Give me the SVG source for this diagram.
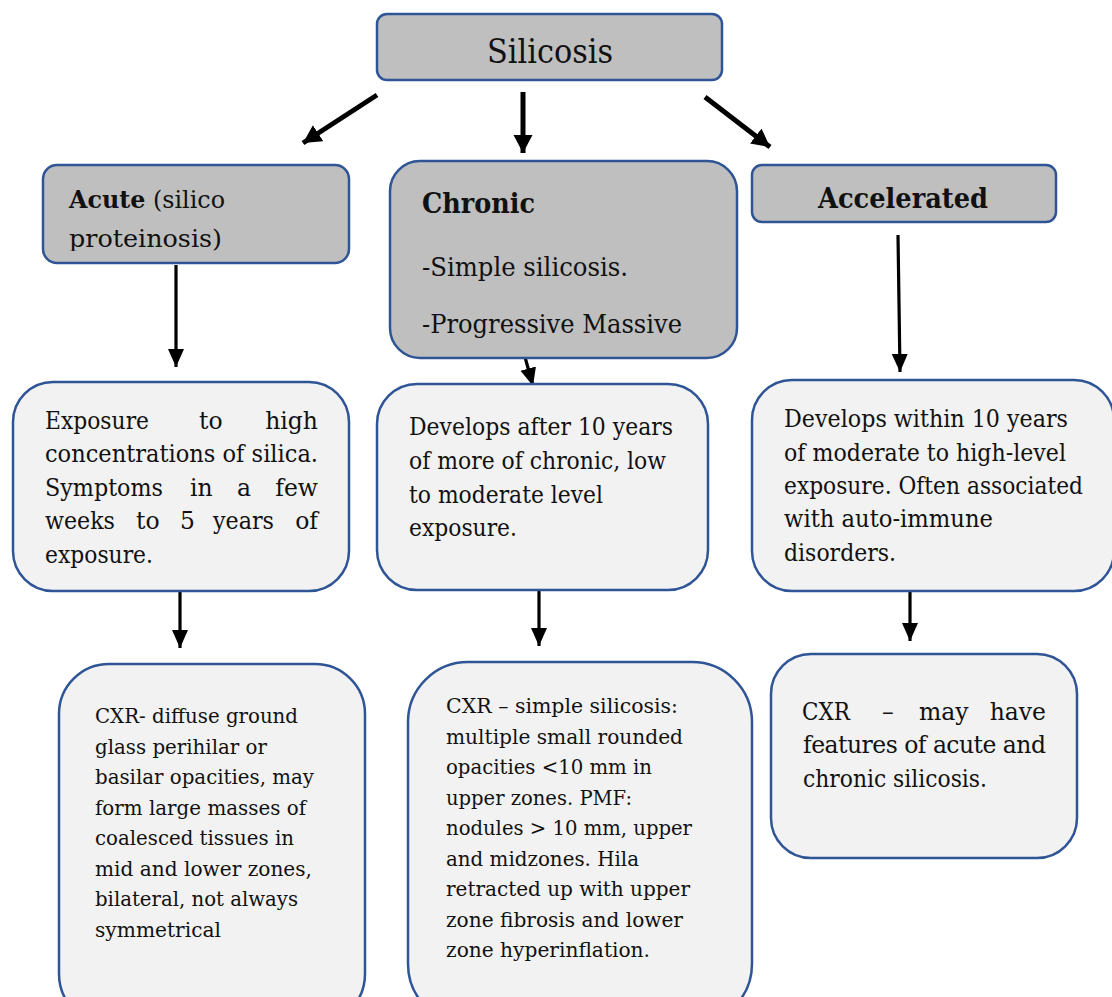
<svg xmlns="http://www.w3.org/2000/svg" width="1112" height="997" viewBox="0 0 1112 997">
<style>
.hd{fill:#bfbfbf;stroke:#2f5597;stroke-width:2.5}
.bx{fill:#f2f2f2;stroke:#2f5597;stroke-width:2.5}
text{font-family:"DejaVu Serif","Liberation Serif",serif;fill:#111}
.b{font-weight:bold}
.t{font-size:23.5px}
.c{font-size:21px}
.a1{stroke:#000;stroke-width:5;fill:none}
.a2{stroke:#000;stroke-width:3.2;fill:none}
</style>
<defs>
<marker id="big" markerUnits="userSpaceOnUse" markerWidth="22" markerHeight="20" refX="18" refY="9.5" orient="auto"><path d="M0,0 L18,9.5 L0,19 Z" fill="#000"/></marker>
<marker id="sm" markerUnits="userSpaceOnUse" markerWidth="20" markerHeight="18" refX="18" refY="8" orient="auto"><path d="M0,0 L18,8 L0,16 Z" fill="#000"/></marker>
<clipPath id="clipA"><rect x="40" y="160" width="320" height="91"/></clipPath>
<clipPath id="clipC"><rect x="385" y="155" width="360" height="183"/></clipPath>
</defs>
<rect width="1112" height="997" fill="#fff"/>

<g id="connectors">
<line class="a1" x1="377" y1="95" x2="303" y2="143" marker-end="url(#big)"/>
<line class="a1" x1="523" y1="92" x2="523" y2="153" marker-end="url(#big)"/>
<line class="a1" x1="705" y1="97" x2="770" y2="147" marker-end="url(#big)"/>
<line class="a2" x1="176" y1="265" x2="176" y2="367" marker-end="url(#sm)"/>
<line class="a2" x1="525" y1="357" x2="533" y2="386" marker-end="url(#sm)"/>
<line class="a2" x1="898" y1="235" x2="900" y2="372" marker-end="url(#sm)"/>
<line class="a2" x1="180" y1="592" x2="180" y2="648" marker-end="url(#sm)"/>
<line class="a2" x1="539" y1="587" x2="539" y2="646" marker-end="url(#sm)"/>
<line class="a2" x1="910" y1="585" x2="910" y2="641" marker-end="url(#sm)"/>
</g>

<g id="silicosis">
<rect class="hd" x="377" y="14" width="345" height="66" rx="10"/>
<text x="487" y="63" font-size="34" textLength="126" lengthAdjust="spacingAndGlyphs">Silicosis</text>
</g>

<g id="acute">
<rect class="hd" x="43" y="165" width="306" height="98" rx="14"/>
<g clip-path="url(#clipA)">
<text x="69" y="208" font-size="25" textLength="156" lengthAdjust="spacingAndGlyphs"><tspan class="b">Acute</tspan> (silico</text>
<text x="69" y="247" font-size="25" textLength="153" lengthAdjust="spacingAndGlyphs">proteinosis)</text>
</g>
</g>

<g id="chronic">
<rect class="hd" x="390" y="161" width="347" height="197" rx="30"/>
<g clip-path="url(#clipC)">
<text class="b" x="422" y="213" font-size="28" textLength="113" lengthAdjust="spacingAndGlyphs">Chronic</text>
<text x="422" y="276" font-size="26" textLength="206" lengthAdjust="spacingAndGlyphs">-Simple silicosis.</text>
<text x="422" y="333" font-size="26" textLength="260" lengthAdjust="spacingAndGlyphs">-Progressive Massive</text>
</g>
</g>

<g id="accelerated">
<rect class="hd" x="752" y="165" width="304" height="57" rx="10"/>
<text class="b" x="818" y="208" font-size="28" textLength="170" lengthAdjust="spacingAndGlyphs">Accelerated</text>
</g>

<g id="acute-detail">
<rect class="bx" x="13" y="382" width="336" height="209" rx="40"/>
<text class="t" x="45" y="429" textLength="104" lengthAdjust="spacingAndGlyphs">Exposure</text>
<text class="t" x="199" y="429">to</text>
<text class="t" x="318" y="429" text-anchor="end">high</text>
<text class="t" x="45" y="462" textLength="273" lengthAdjust="spacingAndGlyphs">concentrations of silica.</text>
<text class="t" x="45" y="496" textLength="118" lengthAdjust="spacingAndGlyphs">Symptoms</text>
<text class="t" x="190" y="496">in</text>
<text class="t" x="237" y="496">a</text>
<text class="t" x="318" y="496" text-anchor="end">few</text>
<text class="t" x="45" y="529" textLength="70" lengthAdjust="spacingAndGlyphs">weeks</text>
<text class="t" x="136" y="529">to</text>
<text class="t" x="180" y="529">5</text>
<text class="t" x="213" y="529" textLength="61" lengthAdjust="spacingAndGlyphs">years</text>
<text class="t" x="318" y="529" text-anchor="end">of</text>
<text class="t" x="45" y="563" textLength="108" lengthAdjust="spacingAndGlyphs">exposure.</text>
</g>

<g id="chronic-detail">
<rect class="bx" x="377" y="384" width="331" height="206" rx="40"/>
<text class="t" x="409" y="435" textLength="264" lengthAdjust="spacingAndGlyphs">Develops after 10 years</text>
<text class="t" x="409" y="469" textLength="257" lengthAdjust="spacingAndGlyphs">of more of chronic, low</text>
<text class="t" x="409" y="503" textLength="194" lengthAdjust="spacingAndGlyphs">to moderate level</text>
<text class="t" x="409" y="536" textLength="108" lengthAdjust="spacingAndGlyphs">exposure.</text>
</g>

<g id="accelerated-detail">
<rect class="bx" x="752" y="380" width="362" height="211" rx="40"/>
<text class="t" x="784" y="427" textLength="284" lengthAdjust="spacingAndGlyphs">Develops within 10 years</text>
<text class="t" x="784" y="461" textLength="282" lengthAdjust="spacingAndGlyphs">of moderate to high-level</text>
<text class="t" x="784" y="494" textLength="299" lengthAdjust="spacingAndGlyphs">exposure. Often associated</text>
<text class="t" x="784" y="527" textLength="209" lengthAdjust="spacingAndGlyphs">with auto-immune</text>
<text class="t" x="784" y="561" textLength="112" lengthAdjust="spacingAndGlyphs">disorders.</text>
</g>

<g id="acute-cxr">
<rect class="bx" x="59" y="664" width="306" height="360" rx="50"/>
<text class="c" x="95" y="723" textLength="203" lengthAdjust="spacingAndGlyphs">CXR- diffuse ground</text>
<text class="c" x="95" y="753.5" textLength="172" lengthAdjust="spacingAndGlyphs">glass perihilar or</text>
<text class="c" x="95" y="784" textLength="219" lengthAdjust="spacingAndGlyphs">basilar opacities, may</text>
<text class="c" x="95" y="814.5" textLength="211" lengthAdjust="spacingAndGlyphs">form large masses of</text>
<text class="c" x="95" y="845" textLength="199" lengthAdjust="spacingAndGlyphs">coalesced tissues in</text>
<text class="c" x="95" y="875.5" textLength="217" lengthAdjust="spacingAndGlyphs">mid and lower zones,</text>
<text class="c" x="95" y="906" textLength="203" lengthAdjust="spacingAndGlyphs">bilateral, not always</text>
<text class="c" x="95" y="936.5" textLength="126" lengthAdjust="spacingAndGlyphs">symmetrical</text>
</g>

<g id="chronic-cxr">
<rect class="bx" x="408" y="662" width="344" height="362" rx="60"/>
<text class="c" x="446" y="713" textLength="232" lengthAdjust="spacingAndGlyphs">CXR – simple silicosis:</text>
<text class="c" x="446" y="743.5" textLength="237" lengthAdjust="spacingAndGlyphs">multiple small rounded</text>
<text class="c" x="446" y="774" textLength="206" lengthAdjust="spacingAndGlyphs">opacities &lt;10 mm in</text>
<text class="c" x="446" y="804.5" textLength="186" lengthAdjust="spacingAndGlyphs">upper zones. PMF:</text>
<text class="c" x="446" y="835" textLength="246" lengthAdjust="spacingAndGlyphs">nodules &gt; 10 mm, upper</text>
<text class="c" x="446" y="865.5" textLength="193" lengthAdjust="spacingAndGlyphs">and midzones. Hila</text>
<text class="c" x="446" y="896" textLength="244" lengthAdjust="spacingAndGlyphs">retracted up with upper</text>
<text class="c" x="446" y="926.5" textLength="237" lengthAdjust="spacingAndGlyphs">zone fibrosis and lower</text>
<text class="c" x="446" y="957" textLength="204" lengthAdjust="spacingAndGlyphs">zone hyperinflation.</text>
</g>

<g id="accelerated-cxr">
<rect class="bx" x="771" y="654" width="306" height="204" rx="40"/>
<text class="t" x="802" y="720" textLength="48" lengthAdjust="spacingAndGlyphs">CXR</text>
<text class="t" x="882" y="720">–</text>
<text class="t" x="919" y="720">may</text>
<text class="t" x="1046" y="720" text-anchor="end">have</text>
<text class="t" x="803" y="753" textLength="243" lengthAdjust="spacing">features of acute and</text>
<text class="t" x="803" y="787" textLength="184" lengthAdjust="spacingAndGlyphs">chronic silicosis.</text>
</g>
</svg>
